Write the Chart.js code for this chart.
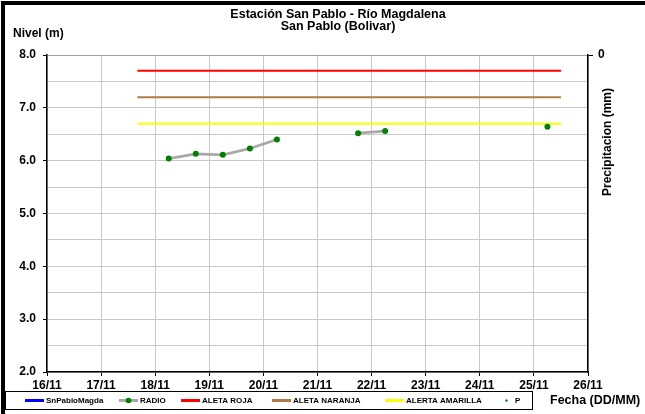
<!DOCTYPE html>
<html>
<head>
<meta charset="utf-8">
<script src="https://cdn.jsdelivr.net/npm/chart.js@4.4.1/dist/chart.umd.min.js"></script>
<style>
  html, body { margin: 0; padding: 0; background: #fff; }
  #wrap { width: 645px; height: 414px; position: relative; }
</style>
</head>
<body>
<div id="wrap"><canvas id="nivelChart" width="645" height="414"></canvas></div>
<script>
// Estación San Pablo - Río Magdalena
const titleLines = ['Estación San Pablo - Río Magdalena', 'San Pablo (Bolivar)'];
const dayTicks = [16, 17, 18, 19, 20, 21, 22, 23, 24, 25, 26];
const levelTicks = [2.0, 3.0, 4.0, 5.0, 6.0, 7.0, 8.0];

// RADIO readings (day of November, nivel m), null = no reading
const radioTimes = [18.25, 18.75, 19.25, 19.75, 20.25, 20.75, 21.25, 21.75, 22.25, 22.75, 23.25, 23.75, 24.25, 24.75, 25.25];
const radioLevels = [6.04, 6.13, 6.11, 6.23, 6.40, null, null, 6.52, 6.56, null, null, null, null, null, 6.64];

// alert thresholds
const alertSpan = [17.67, 25.5];
const alertaRoja = 7.7;
const alertaNaranja = 7.2;
const alertaAmarilla = 6.7;

const snPabloMagda = [];
const precip = [];

const FONT = 'Liberation Sans, Arial, sans-serif';

function pts(xs, ys) { return xs.map((x, i) => ({ x: x, y: ys[i] })); }
function flat(v) { return [{ x: alertSpan[0], y: v }, { x: alertSpan[1], y: v }]; }

const frame = {
    id: 'frame',
    beforeDraw(chart) {
        const c = chart.ctx;
        c.save();
        c.fillStyle = '#000';
        c.fillRect(1, 1, 644, 4);
        c.fillRect(1, 1, 4, 413);
        c.restore();
    },
    afterDraw(chart) {
        const c = chart.ctx;
        c.save();
        c.fillStyle = '#000';
        c.textAlign = 'center';
        c.textBaseline = 'middle';
        c.font = 'bold 12.5px ' + FONT;
        c.fillText(titleLines[0], 338, 15);
        c.fillText(titleLines[1], 338, 27);

        c.font = 'bold 12px ' + FONT;
        c.textAlign = 'left';
        c.fillText('Nivel (m)', 13, 34);

        // precipitation axis title
        c.save();
        c.translate(608, 142);
        c.rotate(-Math.PI / 2);
        c.textAlign = 'center';
        c.fillText('Precipitacion (mm)', 0, 0);
        c.restore();

        c.font = 'bold 12.5px ' + FONT;
        c.textAlign = 'left';
        c.fillText('Fecha (DD/MM)', 550, 401);

        // legend
        c.strokeStyle = '#000';
        c.lineWidth = 1;
        c.strokeRect(5.5, 391.5, 527, 18);
        const items = [
            { t: 'SnPabloMagda', x: 25, col: '#0000ff', line: true },
            { t: 'RADIO', x: 119, col: '#a8a8a8', line: true, dot: '#008000' },
            { t: 'ALETA ROJA', x: 181, col: '#ff0000', line: true },
            { t: 'ALETA NARANJA', x: 272, col: '#b07a45', line: true },
            { t: 'ALERTA AMARILLA', x: 385, col: '#ffff00', line: true },
            { t: 'P', x: 497, col: '#008000', line: false, dot: '#008000', small: true }
        ];
        c.font = 'bold 8px ' + FONT;
        items.forEach(it => {
            const y = 400.5;
            if (it.line) {
                c.strokeStyle = it.col;
                c.lineWidth = 3;
                c.beginPath();
                c.moveTo(it.x, y);
                c.lineTo(it.x + 19, y);
                c.stroke();
            }
            if (it.dot) {
                c.fillStyle = it.dot;
                c.beginPath();
                c.arc(it.x + 9.5, y, it.small ? 1.2 : 2.8, 0, Math.PI * 2);
                c.fill();
            }
            c.fillStyle = '#000';
            c.fillText(it.t, it.x + (it.small ? 18 : 21), y);
        });
        c.restore();
    }
};

new Chart(document.getElementById('nivelChart'), {
    type: 'line',
    data: {
        datasets: [
            { label: 'SnPabloMagda', data: snPabloMagda, borderColor: '#0000ff', borderWidth: 2, pointRadius: 0 },
            {
                label: 'RADIO', data: pts(radioTimes, radioLevels), borderColor: '#a8a8a8', borderWidth: 2.8,
                pointRadius: 3, pointBackgroundColor: '#008000', pointBorderColor: '#008000', pointBorderWidth: 0,
                spanGaps: false, tension: 0
            },
            { label: 'ALETA ROJA', data: flat(alertaRoja), borderColor: '#ff0000', borderWidth: 2, pointRadius: 0 },
            { label: 'ALETA NARANJA', data: flat(alertaNaranja), borderColor: '#b07a45', borderWidth: 2, pointRadius: 0 },
            { label: 'ALERTA AMARILLA', data: flat(alertaAmarilla), borderColor: '#ffff00', borderWidth: 2, pointRadius: 0 },
            { label: 'P', data: precip, yAxisID: 'y2', showLine: false, pointRadius: 1.2, pointBackgroundColor: '#008000' }
        ]
    },
    options: {
        responsive: false,
        animation: false,
        layout: { padding: { top: 55, left: 0, right: 0, bottom: 0 } },
        plugins: { legend: { display: false }, tooltip: { enabled: false } },
        scales: {
            x: {
                type: 'linear', min: 16, max: 26,
                afterBuildTicks: s => { s.ticks = dayTicks.map(v => ({ value: v })); },
                afterFit: s => { s.height = 42; },
                ticks: {
                    callback: v => v + '/11',
                    color: '#000', padding: 2, maxRotation: 0,
                    font: { family: FONT, size: 12, weight: 'bold' }
                },
                grid: { color: '#c8c8c8', lineWidth: 1, tickLength: 4, tickColor: '#000' },
                border: { color: '#000', width: 1.5 }
            },
            y: {
                min: 2, max: 8,
                afterBuildTicks: s => {
                    const t = [];
                    for (let v = 2; v <= 8.001; v += 0.5) t.push({ value: Math.round(v * 10) / 10 });
                    s.ticks = t;
                },
                afterFit: s => { s.width = 47; },
                ticks: {
                    callback: v => levelTicks.includes(v) ? v.toFixed(1) : '',
                    color: '#000', padding: 7,
                    font: { family: FONT, size: 12, weight: 'bold' }
                },
                grid: {
                    color: c => c.tick && c.tick.value === 8 ? '#a0a0a0' : '#c8c8c8',
                    tickLength: 4,
                    tickColor: c => c.tick && Number.isInteger(c.tick.value) ? '#000' : 'rgba(0,0,0,0)'
                },
                border: { color: '#000', width: 1.5 }
            },
            y2: {
                position: 'right', min: 0, max: 10, reverse: true,
                afterBuildTicks: s => { s.ticks = [{ value: 0 }]; },
                afterFit: s => { s.width = 57; },
                ticks: {
                    color: '#000', padding: 5,
                    font: { family: FONT, size: 12, weight: 'bold' }
                },
                grid: { drawOnChartArea: false, tickLength: 5, tickColor: '#000' },
                border: { color: '#000', width: 1.5 }
            }
        }
    },
    plugins: [frame]
});
</script>
</body>
</html>
